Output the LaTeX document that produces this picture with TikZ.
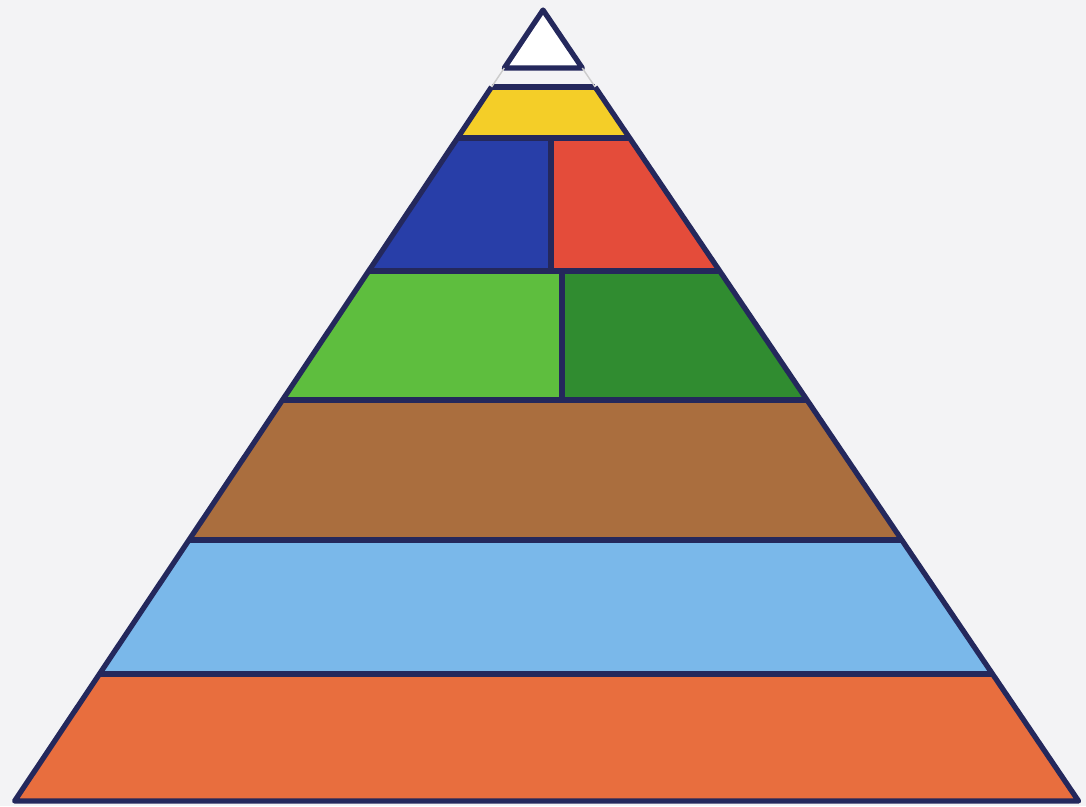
\documentclass[tikz,border=0pt]{standalone}
\usetikzlibrary{calc}
\definecolor{paperc}{RGB}{243,243,245}
\definecolor{edgec}{RGB}{36,40,92}
\definecolor{yellowc}{RGB}{244,206,40}
\definecolor{bluec}{RGB}{40,62,168}
\definecolor{redc}{RGB}{228,76,58}
\definecolor{lgreenc}{RGB}{94,190,62}
\definecolor{dgreenc}{RGB}{48,140,48}
\definecolor{brownc}{RGB}{170,110,62}
\definecolor{skyc}{RGB}{122,184,234}
\definecolor{orangec}{RGB}{232,110,62}
\begin{document}
\begin{tikzpicture}[x=0.01cm, y=-0.01cm,
    declare function={xl(\t)=543-0.668*(\t-10); xr(\t)=543+0.677*(\t-10);},
    rule/.style={edgec, line width=1.7pt},
    rim/.style={edgec, line width=1.5pt, line join=round}]
  \fill[paperc] (0,0) rectangle (1086,806);
  \useasboundingbox (0,0) rectangle (1086,806);
  % full-width bands
  \foreach \ya/\yb/\col in {87/138/yellowc, 400/540/brownc, 540/674/skyc, 674/801/orangec}
    \fill[\col] ({xl(\ya)},\ya) -- ({xr(\ya)},\ya) -- ({xr(\yb)},\yb) -- ({xl(\yb)},\yb) -- cycle;
  % split bands
  \foreach \ya/\yb/\xm/\cl/\cr in {138/271/551/bluec/redc, 271/400/562/lgreenc/dgreenc} {
    \fill[\cl] ({xl(\ya)},\ya) -- (\xm,\ya) -- (\xm,\yb) -- ({xl(\yb)},\yb) -- cycle;
    \fill[\cr] (\xm,\ya) -- ({xr(\ya)},\ya) -- ({xr(\yb)},\yb) -- (\xm,\yb) -- cycle;
    \draw[rule] (\xm,\ya) -- (\xm,\yb);
  }
  % rules between bands
  \foreach \y in {87, 138, 271, 400, 540, 674}
    \draw[rule] ({xl(\y)},\y) -- ({xr(\y)},\y);
  \draw[rim] ({xl(87)},87) -- ({xl(801)},801) -- ({xr(801)},801) -- ({xr(87)},87);
  % top triangle
  \draw[rim, fill=white] (543,10) -- ({xl(68)},68) -- ({xr(68)},68) -- cycle;
  \draw[black!20, thin] ({xl(68)},68) -- ({xl(87)},87) ({xr(68)},68) -- ({xr(87)},87);
\end{tikzpicture}
\end{document}
